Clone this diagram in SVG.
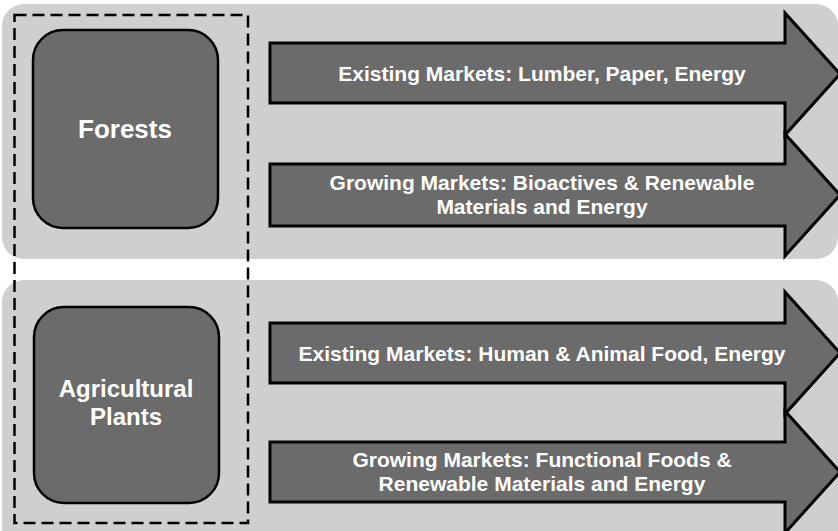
<svg xmlns="http://www.w3.org/2000/svg" width="838" height="531" viewBox="0 0 838 531">
<style>
.panel{fill:#cfcfcf;}
.box{fill:#6b6b6b;stroke:#000;stroke-width:2.5;}
.arrow{fill:#6b6b6b;stroke:#000;stroke-width:3;stroke-linejoin:miter;}
.dash{fill:none;stroke:#000;stroke-width:2.5;stroke-dasharray:12 6;}
.t{font-family:"Liberation Sans",Arial,sans-serif;font-weight:bold;fill:#fff;text-anchor:middle;}
.at{font-size:21px;}
</style>
<rect width="838" height="531" fill="#fff"/>
<g id="panel-forests"><rect class="panel" x="2" y="4" width="836" height="255" rx="22"/></g>
<g id="panel-agri"><rect class="panel" x="2" y="280" width="836" height="280" rx="22"/></g>
<g id="group-dashed"><rect class="dash" x="14.5" y="15" width="233.5" height="508"/></g>
<g id="forests">
<rect class="box" x="33" y="30" width="185" height="198" rx="30"/>
<text class="t" x="125" y="138" font-size="26">Forests</text>
</g>
<g id="agricultural">
<rect class="box" x="34" y="307" width="185" height="196" rx="30"/>
<text class="t" x="126" y="397" font-size="24">Agricultural</text>
<text class="t" x="126" y="425" font-size="24">Plants</text>
</g>
<g id="connectors">
<g id="arrow-1">
<path class="arrow" d="M270,43 H785 V13 L840,74 L785,135 V103 H270 Z"/>
<text class="t at" x="542" y="81">Existing Markets: Lumber, Paper, Energy</text>
</g>
<g id="arrow-2">
<path class="arrow" d="M270,164 H785 V134 L840,195 L785,256 V226 H270 Z"/>
<text class="t at" x="542" y="190">Growing Markets: Bioactives &amp; Renewable</text>
<text class="t at" x="542" y="214">Materials and Energy</text>
</g>
<g id="arrow-3">
<path class="arrow" d="M270,323 H785 V292 L840,353 L785,414 V383 H270 Z"/>
<text class="t at" x="542" y="361">Existing Markets: Human &amp; Animal Food, Energy</text>
</g>
<g id="arrow-4">
<path class="arrow" d="M270,442 H785 V411 L840,472 L785,533 V502 H270 Z"/>
<text class="t at" x="542" y="467">Growing Markets: Functional Foods &amp;</text>
<text class="t at" x="542" y="491">Renewable Materials and Energy</text>
</g>
</g>
</svg>
